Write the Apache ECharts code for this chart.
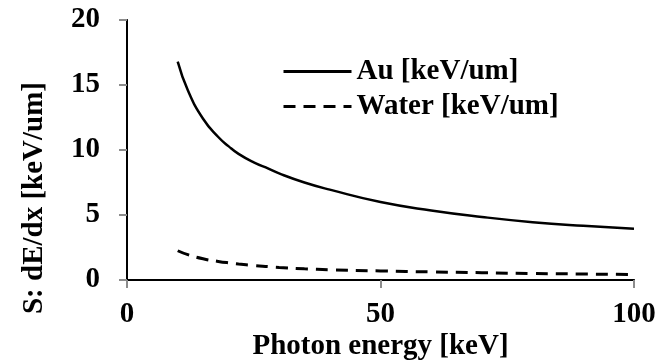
<!DOCTYPE html>
<html>
<head>
<meta charset="utf-8">
<script src="https://cdn.jsdelivr.net/npm/echarts@6/dist/echarts.min.js"></script>
<style>
html,body{margin:0;padding:0;background:#fff;}
#c{width:662px;height:360px;}
</style>
</head>
<body>
<div id="c"></div>
<script>
var energy = [10, 12, 15, 18, 20, 22, 25, 28, 30, 35, 40, 50, 60, 70, 80, 90, 100];
var au = [16.8, 14.6, 12.4, 11.0, 10.3, 9.7, 9.05, 8.55, 8.2, 7.5, 6.95, 6.0, 5.35, 4.85, 4.45, 4.17, 3.95];
var water = [2.25, 1.95, 1.63, 1.43, 1.32, 1.23, 1.12, 1.03, 0.97, 0.86, 0.79, 0.7, 0.62, 0.56, 0.5, 0.46, 0.42];
var seriesNames = ['Au [keV/um]', 'Water [keV/um]'];
var xTitle = 'Photon energy [keV]';
var yTitle = 'S: dE/dx [keV/um]';

function pairs(xs, ys) { return xs.map(function (x, i) { return [x, ys[i]]; }); }

var font = 'Liberation Serif, Times New Roman, serif';
var fs = 29;
var gray = '#8c8c8c';
var dash = [12, 8];
var chart = echarts.init(document.getElementById('c'));
chart.setOption({
  animation: false,
  backgroundColor: '#fff',
  grid: { left: 127, right: 28, top: 20, bottom: 80, containLabel: false, outerBoundsMode: 'none' },
  legend: {
    orient: 'vertical', left: 277, top: 52, itemWidth: 68, itemHeight: 14, itemGap: 6,
    data: [
      { name: seriesNames[0], lineStyle: { width: 3, color: '#000', type: 'solid' } },
      { name: seriesNames[1], lineStyle: { width: 3, color: '#000', type: dash } }
    ],
    itemStyle: { opacity: 0 },
    textStyle: { fontFamily: font, fontWeight: 'bold', fontSize: fs, color: '#000' }
  },
  xAxis: [{
    type: 'value', min: 0, max: 100, interval: 50,
    name: xTitle, nameLocation: 'middle', nameGap: 52, nameMoveOverlap: false,
    nameTextStyle: { fontFamily: font, fontWeight: 'bold', fontSize: fs, color: '#000' },
    axisLine: { show: true, lineStyle: { color: gray, width: 2 } },
    axisTick: { show: true, length: 8, lineStyle: { color: gray, width: 2 } },
    axisLabel: { margin: 20, fontFamily: font, fontWeight: 'bold', fontSize: fs, color: '#000' },
    splitLine: { show: false }
  }, {
    type: 'value', min: 0, max: 100, position: 'top',
    axisLine: { show: true, lineStyle: { color: '#000', width: 2 } },
    axisTick: { show: false }, axisLabel: { show: false }, splitLine: { show: false }
  }],
  yAxis: [{
    type: 'value', min: 0, max: 20, interval: 5,
    name: yTitle, nameLocation: 'middle', nameGap: 78, nameRotate: 90,
    nameTextStyle: { fontFamily: font, fontWeight: 'bold', fontSize: fs, color: '#000', padding: [0, 96, 0, 0] },
    axisLine: { show: true, lineStyle: { color: gray, width: 2 } },
    axisTick: { show: true, length: 8, lineStyle: { color: gray, width: 2 } },
    axisLabel: { margin: 27, fontFamily: font, fontWeight: 'bold', fontSize: fs, color: '#000' },
    splitLine: { show: false }
  }, {
    type: 'value', min: 0, max: 20, position: 'right',
    axisLine: { show: true, lineStyle: { color: '#000', width: 2 } },
    axisTick: { show: false }, axisLabel: { show: false }, splitLine: { show: false }
  }],
  series: [{
    name: seriesNames[0], type: 'line', smooth: true, symbol: 'none',
    data: pairs(energy, au),
    lineStyle: { color: '#000', width: 2.5, type: 'solid' },
    itemStyle: { color: '#000' }
  }, {
    name: seriesNames[1], type: 'line', smooth: true, symbol: 'none',
    data: pairs(energy, water),
    lineStyle: { color: '#000', width: 3, type: dash },
    itemStyle: { color: '#000' }
  }]
});
</script>
</body>
</html>
